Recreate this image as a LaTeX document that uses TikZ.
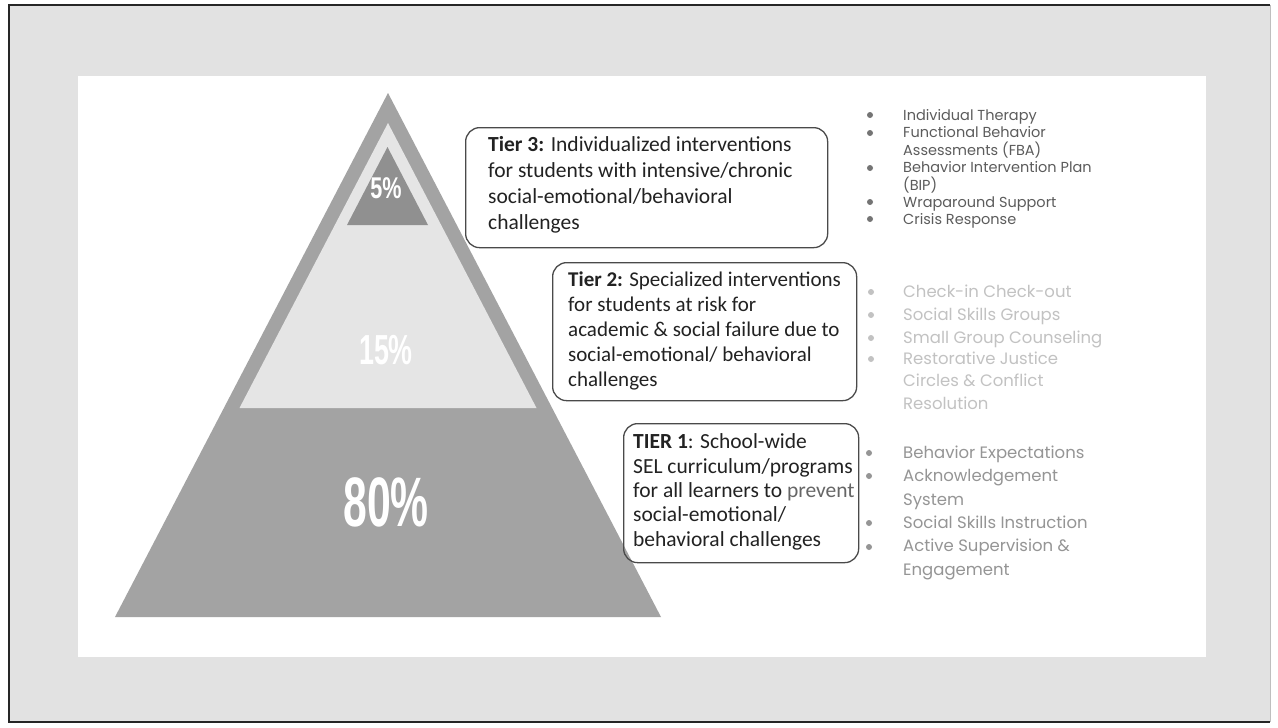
\documentclass[tikz,border=0pt]{standalone}
\usepackage{fontspec}
\usepackage{graphicx}
\setmainfont{Carlito}
\newfontfamily\listfont{Poppins}
\newfontfamily\pctfont{Liberation Sans}

\definecolor{pagegray}{HTML}{E2E2E2}
\definecolor{pyrdark}{HTML}{A3A3A3}
\definecolor{pyrlight}{HTML}{E5E5E5}
\definecolor{pyrtop}{HTML}{909090}
\definecolor{boxline}{HTML}{4A4A4A}
\definecolor{boxtext}{HTML}{222222}
\definecolor{listthree}{HTML}{5C5C5C}
\definecolor{listtwo}{HTML}{C2C2C2}
\definecolor{listone}{HTML}{959595}

\tikzset{
  tierbox/.style={draw=boxline, line width=1.3pt, rounded corners=14pt,
    inner sep=0pt, anchor=north west},
  tiertext/.style={anchor=base west, align=left, inner sep=0pt, text=boxtext},
  pctlabel/.style={text=white, inner sep=0pt},
  listitem/.style={anchor=base west, align=left, inner sep=0pt},
  dotthree/.style={circle, fill=listthree!85, inner sep=0pt, minimum size=6pt},
  dottwo/.style={circle, fill=listtwo, inner sep=0pt, minimum size=6pt},
  dotone/.style={circle, fill=listone, inner sep=0pt, minimum size=6pt},
}

\begin{document}
\begin{tikzpicture}[x=1pt, y=-1pt]
\useasboundingbox (0,0) rectangle (1278,728);
\fill[white] (0,0) rectangle (1278,728);

% gray mat with its frame
\fill[pagegray] (9,5) rectangle (1270,722);
\draw[black!85, line width=1.6pt] (1270,5) -- (9,5) -- (9,722) -- (1270,722);
\draw[black!25, line width=0.8pt] (1270,5) -- (1270,722);

% white slide area
\fill[white] (78,76) rectangle (1206,657);

% pyramid: outer band and 80% base
\fill[pyrdark] (388,93) -- (115,617) -- (661,617) -- cycle;
% 15% middle tier
\fill[pyrlight] (388,123) -- (239.5,408) -- (536.5,408) -- cycle;
% 5% top tier
\fill[pyrtop] (387.5,147) -- (347,225) -- (428,225) -- cycle;

\node[pctlabel, font=\pctfont\bfseries\fontsize{30}{30}\selectfont] (p5) at (386,188) {\scalebox{0.72}[1]{5\%}};
\node[pctlabel, font=\pctfont\bfseries\fontsize{42}{42}\selectfont] (p15) at (386,350) {\scalebox{0.64}[1]{15\%}};
\node[pctlabel, font=\pctfont\bfseries\fontsize{70}{70}\selectfont] (p80) at (386,502) {\scalebox{0.61}[1]{80\%}};

% tier description boxes (text anchored at the baseline of its last line)
\node[tierbox, minimum width=362pt, minimum height=120pt] (b3) at (465,127) {};
\node[tiertext, font=\fontsize{21.5}{26}\selectfont] (t3) at (488,229)
  {\textbf{Tier 3:} Individualized interventions\\
   for students with intensive/chronic\\
   social-emotional/behavioral\\
   challenges};

\node[tierbox, minimum width=304pt, minimum height=138pt] (b2) at (552,262) {};
\node[tiertext, font=\fontsize{21}{25}\selectfont] (t2) at (568,386)
  {\textbf{Tier 2:} Specialized interventions\\
   for students at risk for\\
   academic \& social failure due to\\
   social-emotional/ behavioral\\
   challenges};

\node[tierbox, minimum width=235pt, minimum height=139pt] (b1) at (623,423) {};
\node[tiertext, font=\fontsize{21.5}{24.3}\selectfont] (t1) at (633,546)
  {\textbf{TIER 1}: School-wide\\
   SEL curriculum/programs\\
   for all learners to \textcolor{black!60}{prevent}\\
   social-emotional/\\
   behavioral challenges};

% Tier 3 supports
\begin{scope}[every node/.append style={text=listthree, font=\listfont\fontsize{14.5}{17.3}\selectfont}]
\node[listitem] (s3a) at (903,120) {Individual Therapy};
\node[listitem] (s3b) at (903,155) {Functional Behavior\\Assessments (FBA)};
\node[listitem] (s3c) at (903,190) {Behavior Intervention Plan\\(BIP)};
\node[listitem] (s3d) at (903,207) {Wraparound Support};
\node[listitem] (s3e) at (903,224) {Crisis Response};
\end{scope}
\foreach \n/\y in {a/115, b/133, c/168, d/202, e/219}
  \node[dotthree] (d3\n) at (870,\y) {};

% Tier 2 supports
\begin{scope}[every node/.append style={text=listtwo, font=\listfont\fontsize{16.5}{22.5}\selectfont}]
\node[listitem] (s2a) at (903,297) {Check-in Check-out};
\node[listitem] (s2b) at (903,320) {Social Skills Groups};
\node[listitem] (s2c) at (903,343) {Small Group Counseling};
\node[listitem] (s2d) at (903,409) {Restorative Justice\\Circles \& Conflict\\Resolution};
\end{scope}
\foreach \n/\y in {a/292, b/315, c/338, d/359}
  \node[dottwo] (d2\n) at (871,\y) {};

% Tier 1 supports
\begin{scope}[every node/.append style={text=listone, font=\listfont\fontsize{16.5}{23.5}\selectfont}]
\node[listitem] (s1a) at (903,458) {Behavior Expectations};
\node[listitem] (s1b) at (903,505) {Acknowledgement\\System};
\node[listitem] (s1c) at (903,528) {Social Skills Instruction};
\node[listitem] (s1d) at (903,575) {Active Supervision \&\\Engagement};
\end{scope}
\foreach \n/\y in {a/453, b/476, c/523, d/547}
  \node[dotone] (d1\n) at (869,\y) {};

\end{tikzpicture}
\end{document}
